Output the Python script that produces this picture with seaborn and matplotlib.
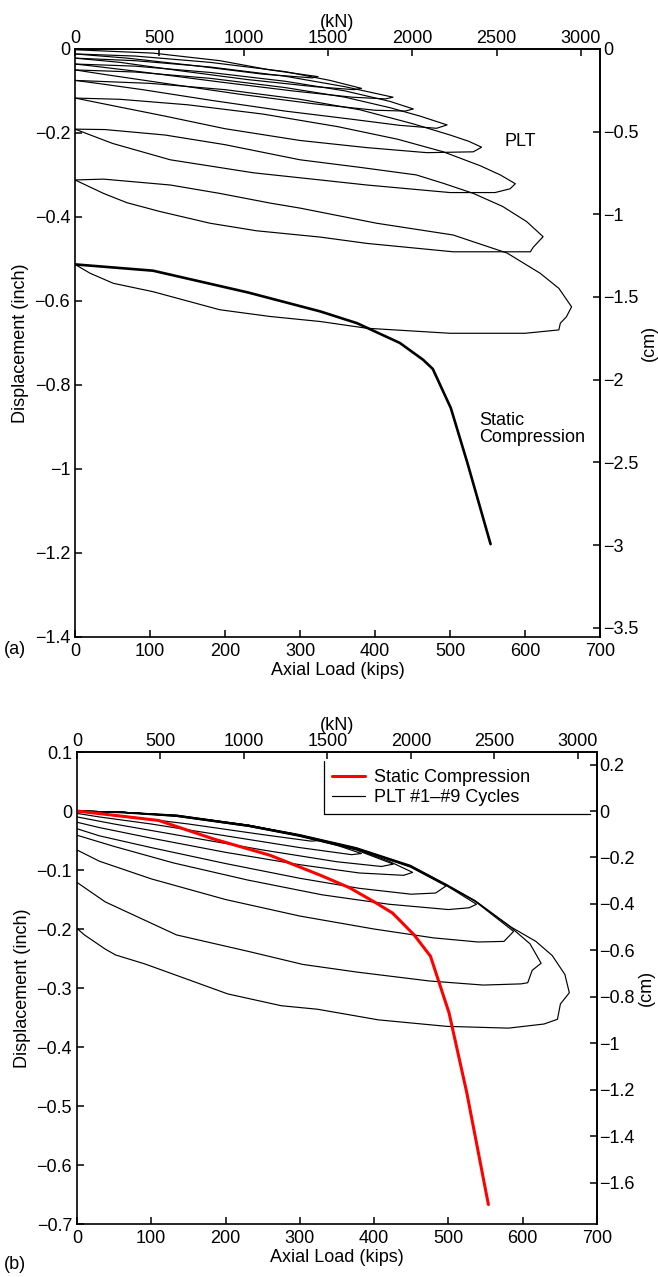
# ============================================================
# Pile load test: Static compression vs PLT cycles
# ============================================================

import pandas as pd
import matplotlib
matplotlib.use("Agg")
import matplotlib.pyplot as plt
from matplotlib.lines import Line2D
from matplotlib.ticker import FuncFormatter
import seaborn as sns

# ============================================================
# Data
# ============================================================

KIP_TO_KN = 4.448
INCH_TO_CM = 2.54

# (a) PLT cycles, each loop = loading branch + unloading branch
plt_a_kips = [
    [0, 104, 193, 260, 324, 316, 250, 160, 70, 0],
    [0, 80, 180, 280, 340, 382, 372, 320, 230, 140, 60, 0],
    [0, 80, 180, 280, 360, 424, 414, 370, 290, 190, 90, 25, 0],
    [0, 80, 180, 280, 360, 420, 451, 440, 400, 320, 220, 120, 40, 0],
    [0, 80, 180, 280, 360, 420, 460, 496, 482, 433, 367, 280, 180, 90, 30, 0],
    [0, 100, 200, 300, 380, 450, 500, 525, 542, 531, 469, 389, 300, 200,
     120, 50, 0],
    [0, 60, 150, 250, 350, 430, 491, 540, 567, 587, 580, 560, 500, 389,
     327, 238, 127, 50, 0],
    [0, 40, 120, 200, 300, 380, 455, 491, 531, 570, 602, 624, 611, 607,
     504, 389, 327, 242, 180, 113, 69, 38, 0],
    [0, 38, 127, 193, 260, 300, 402, 504, 576, 620, 645, 662, 655, 647,
     645, 600, 500, 389, 327, 260, 193, 104, 51, 20, 0],
]
plt_a_disp = [
    [-0.002, -0.010, -0.028, -0.050, -0.066, -0.069, -0.060, -0.040, -0.022,
     -0.012],
    [-0.012, -0.017, -0.032, -0.054, -0.075, -0.094, -0.097, -0.090, -0.073,
     -0.052, -0.032, -0.022],
    [-0.022, -0.028, -0.043, -0.065, -0.090, -0.115, -0.119, -0.115, -0.100,
     -0.078, -0.055, -0.041, -0.036],
    [-0.036, -0.041, -0.056, -0.077, -0.100, -0.125, -0.143, -0.148, -0.146,
     -0.131, -0.108, -0.082, -0.061, -0.050],
    [-0.050, -0.055, -0.070, -0.092, -0.115, -0.140, -0.160, -0.181, -0.189,
     -0.182, -0.167, -0.148, -0.122, -0.097, -0.082, -0.075],
    [-0.075, -0.082, -0.097, -0.120, -0.145, -0.178, -0.205, -0.220, -0.234,
     -0.245, -0.247, -0.235, -0.218, -0.190, -0.160, -0.135, -0.117],
    [-0.117, -0.120, -0.133, -0.155, -0.185, -0.215, -0.245, -0.278, -0.300,
     -0.321, -0.333, -0.342, -0.342, -0.324, -0.312, -0.295, -0.264, -0.225,
     -0.191],
    [-0.191, -0.192, -0.205, -0.228, -0.264, -0.282, -0.300, -0.320, -0.344,
     -0.375, -0.411, -0.447, -0.472, -0.483, -0.483, -0.463, -0.448, -0.433,
     -0.415, -0.387, -0.366, -0.344, -0.312],
    [-0.312, -0.310, -0.324, -0.344, -0.367, -0.379, -0.415, -0.443, -0.486,
     -0.534, -0.570, -0.614, -0.638, -0.653, -0.669, -0.677, -0.677, -0.665,
     -0.649, -0.637, -0.621, -0.578, -0.558, -0.534, -0.513],
]

# (a) static compression
static_a_kips = [0, 104, 231, 327, 376, 433, 464, 477, 501, 523, 554]
static_a_disp = [-0.513, -0.528, -0.580, -0.625, -0.653, -0.700, -0.740,
                 -0.762, -0.855, -0.985, -1.179]

# (b) PLT #1-#9 cycles, each starting from zero
plt_b_kips = [
    [0, 60, 134, 231, 290, 327, 315, 250, 150, 60, 0],
    [0, 60, 134, 231, 300, 350, 383, 370, 300, 200, 100, 30, 0],
    [0, 60, 134, 231, 300, 376, 426, 410, 350, 250, 150, 50, 0],
    [0, 60, 134, 231, 300, 376, 420, 452, 440, 380, 300, 200, 100, 30, 0],
    [0, 60, 134, 231, 300, 376, 449, 497, 483, 450, 380, 300, 200, 100, 30, 0],
    [0, 60, 134, 231, 300, 376, 449, 497, 538, 528, 500, 420, 330, 230, 130,
     50, 0],
    [0, 60, 134, 231, 300, 376, 449, 497, 536, 588, 575, 540, 480, 400, 300,
     200, 100, 30, 0],
    [0, 60, 134, 231, 300, 376, 449, 497, 536, 585, 610, 625, 613, 607, 598,
     547, 474, 377, 304, 231, 134, 38, 0],
    [0, 60, 134, 231, 300, 376, 449, 497, 536, 585, 618, 640, 657, 663, 651,
     647, 629, 581, 498, 406, 324, 275, 203, 135, 91, 52, 38, 10, 0],
]
plt_b_disp = [
    [0, -0.002, -0.008, -0.025, -0.038, -0.050, -0.051, -0.040, -0.022,
     -0.008, -0.001],
    [0, -0.002, -0.009, -0.026, -0.042, -0.058, -0.072, -0.074, -0.062,
     -0.042, -0.022, -0.010, -0.004],
    [0, -0.003, -0.009, -0.026, -0.043, -0.066, -0.090, -0.094, -0.086,
     -0.066, -0.044, -0.022, -0.010],
    [0, -0.002, -0.008, -0.025, -0.042, -0.065, -0.085, -0.104, -0.109,
     -0.105, -0.091, -0.070, -0.046, -0.028, -0.019],
    [0, -0.002, -0.008, -0.024, -0.041, -0.064, -0.095, -0.127, -0.139,
     -0.141, -0.131, -0.114, -0.089, -0.062, -0.042, -0.030],
    [0, -0.002, -0.008, -0.025, -0.042, -0.064, -0.094, -0.126, -0.158,
     -0.164, -0.167, -0.158, -0.142, -0.117, -0.088, -0.060, -0.041],
    [0, -0.002, -0.008, -0.024, -0.041, -0.063, -0.094, -0.126, -0.153,
     -0.204, -0.221, -0.222, -0.215, -0.200, -0.178, -0.150, -0.115, -0.085,
     -0.066],
    [0, -0.002, -0.007, -0.024, -0.041, -0.063, -0.093, -0.125, -0.152,
     -0.198, -0.225, -0.258, -0.270, -0.291, -0.293, -0.295, -0.288, -0.273,
     -0.260, -0.238, -0.210, -0.154, -0.121],
    [0, -0.002, -0.007, -0.024, -0.040, -0.062, -0.092, -0.124, -0.152,
     -0.197, -0.221, -0.245, -0.277, -0.308, -0.327, -0.353, -0.361, -0.368,
     -0.365, -0.354, -0.336, -0.330, -0.310, -0.279, -0.259, -0.244, -0.234,
     -0.210, -0.199],
]

# (b) static compression
static_b_kips = [0, 110, 183, 260, 328, 367, 403, 425, 454, 476, 501, 525, 554]
static_b_disp = [0, -0.016, -0.047, -0.075, -0.109, -0.130, -0.156, -0.173,
                 -0.210, -0.246, -0.342, -0.478, -0.667]

kn_ticks = [0, 500, 1000, 1500, 2000, 2500, 3000]
cm_ticks_a = [0, -0.5, -1, -1.5, -2, -2.5, -3, -3.5]
cm_ticks_b = [0.2, 0, -0.2, -0.4, -0.6, -0.8, -1, -1.2, -1.4, -1.6]
inch_ticks_a = [0, -0.2, -0.4, -0.6, -0.8, -1, -1.2, -1.4]
inch_ticks_b = [0.1, 0, -0.1, -0.2, -0.3, -0.4, -0.5, -0.6, -0.7]
kip_ticks = [0, 100, 200, 300, 400, 500, 600, 700]


def cycles_frame(kips, disp):
    rows = []
    for i, (xs, ys) in enumerate(zip(kips, disp)):
        for j, (x, y) in enumerate(zip(xs, ys)):
            rows.append({"kips": x, "disp": y, "cycle": i + 1, "step": j})
    return pd.DataFrame(rows)


df_a = cycles_frame(plt_a_kips, plt_a_disp)
df_b = cycles_frame(plt_b_kips, plt_b_disp)
static_a = pd.DataFrame({"kips": static_a_kips, "disp": static_a_disp})
static_b = pd.DataFrame({"kips": static_b_kips, "disp": static_b_disp})

# ============================================================
# Style
# ============================================================

sns.set_style("ticks")
plt.rcParams["font.family"] = ["Liberation Sans", "DejaVu Sans"]
plt.rcParams["font.size"] = 13
plt.rcParams["text.color"] = "black"
plt.rcParams["axes.labelcolor"] = "black"
plt.rcParams["axes.edgecolor"] = "black"
plt.rcParams["xtick.color"] = "black"
plt.rcParams["ytick.color"] = "black"
plt.rcParams["axes.linewidth"] = 1.2
plt.rcParams["xtick.direction"] = "in"
plt.rcParams["ytick.direction"] = "in"
plt.rcParams["xtick.major.size"] = 5
plt.rcParams["ytick.major.size"] = 5
plt.rcParams["xtick.major.width"] = 1.1
plt.rcParams["ytick.major.width"] = 1.1
plt.rcParams["axes.unicode_minus"] = True

fmt = FuncFormatter(lambda v, p: ("%g" % v).replace("-", "\u2212"))


def dress(ax, ylim, inch_ticks, cm_ticks):
    ax.set_xlim(0, 700)
    ax.set_ylim(*ylim)
    ax.set_xticks(kip_ticks)
    ax.set_yticks(inch_ticks)
    ax.xaxis.set_major_formatter(fmt)
    ax.yaxis.set_major_formatter(fmt)
    ax.tick_params(labelsize=13, top=False, right=False)
    ax.tick_params(axis="x", pad=4.5)
    ax.set_xlabel("Axial Load (kips)", fontsize=13, labelpad=1)
    ax.set_ylabel("Displacement (inch)", fontsize=13, labelpad=4)
    for s in ax.spines.values():
        s.set_visible(True)
        s.set_color("black")

    top = ax.secondary_xaxis(
        "top", functions=(lambda k: k * KIP_TO_KN, lambda n: n / KIP_TO_KN))
    top.set_xticks(kn_ticks)
    top.xaxis.set_major_formatter(fmt)
    top.tick_params(direction="in", labelsize=13, pad=1.5)
    top.set_xlabel("(kN)", fontsize=13, labelpad=2)

    right = ax.secondary_yaxis(
        "right", functions=(lambda i: i * INCH_TO_CM, lambda c: c / INCH_TO_CM))
    right.set_yticks(cm_ticks)
    right.yaxis.set_major_formatter(fmt)
    right.tick_params(direction="in", labelsize=13, pad=2)
    right.set_ylabel("(cm)", fontsize=13, labelpad=2)


fig = plt.figure(figsize=(6.58, 12.77), dpi=100)

# ============================================================
# Panel (a)
# ============================================================

ax_a = fig.add_axes([0.114, 0.5012, 0.798, 0.4605])

sns.lineplot(data=df_a, x="kips", y="disp", units="cycle", estimator=None,
             sort=False, color="black", lw=0.85, ax=ax_a, legend=False)
sns.lineplot(data=static_a, x="kips", y="disp", sort=False, estimator=None,
             color="black", lw=1.9, ax=ax_a, legend=False)

dress(ax_a, (-1.4, 0), inch_ticks_a, cm_ticks_a)

ax_a.text(573, -0.22, "PLT", fontsize=13, va="center", ha="left")
ax_a.text(539, -0.905, "Static\nCompression", fontsize=13, va="center",
          ha="left", linespacing=1.05)

fig.text(0.006, 0.491, "(a)", fontsize=13, ha="left", va="center")

# ============================================================
# Panel (b)
# ============================================================

ax_b = fig.add_axes([0.117, 0.0415, 0.790, 0.3696])

sns.lineplot(data=df_b, x="kips", y="disp", units="cycle", estimator=None,
             sort=False, color="black", lw=0.85, ax=ax_b, legend=False)
sns.lineplot(data=static_b, x="kips", y="disp", sort=False, estimator=None,
             color="#ff0000", lw=2.2, ax=ax_b, legend=False)

dress(ax_b, (-0.7, 0.1), inch_ticks_b, cm_ticks_b)

handles = [
    Line2D([], [], color="#ff0000", lw=2.2),
    Line2D([], [], color="black", lw=0.85),
]
leg = ax_b.legend(handles, ["Static Compression", "PLT #1\u2013#9 Cycles"],
                  loc="upper left", bbox_to_anchor=(0.475, 0.981),
                  borderaxespad=0, fontsize=13, handlelength=1.8,
                  handletextpad=0.55, labelspacing=0.15, borderpad=0.45,
                  fancybox=False, framealpha=0)
leg.get_frame().set_edgecolor("none")

# legend box drawn MATLAB-style: only left and bottom edges show
fig.canvas.draw()
bb = leg.get_window_extent().transformed(ax_b.transAxes.inverted())
ax_b.add_line(Line2D([bb.x0, bb.x0, 0.987], [bb.y1, bb.y0, bb.y0],
                     transform=ax_b.transAxes, color="black", lw=0.9,
                     clip_on=False))

fig.text(0.006, 0.0094, "(b)", fontsize=13, ha="left", va="center")

plt.savefig("out.png", dpi=100)
plt.close()
